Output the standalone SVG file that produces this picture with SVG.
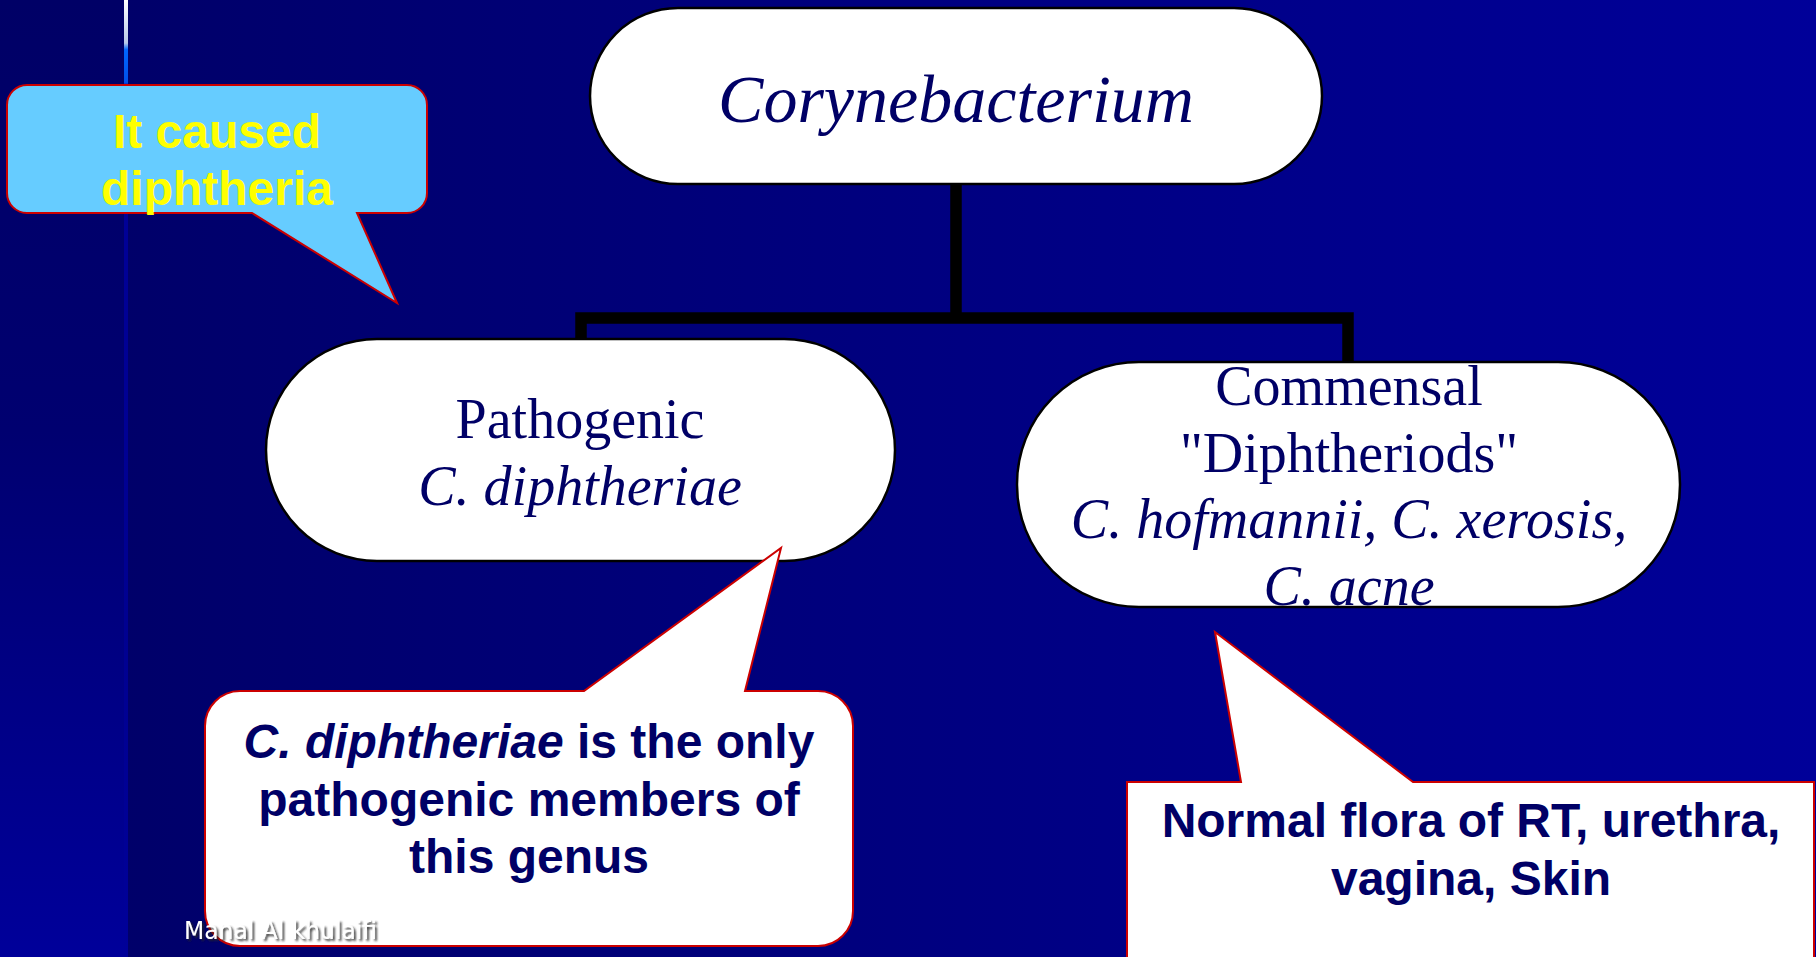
<svg xmlns="http://www.w3.org/2000/svg" width="1816" height="957" viewBox="0 0 1816 957">
  <defs>
    <linearGradient id="bgMain" x1="0" y1="0" x2="1" y2="0">
      <stop offset="0" stop-color="#000066"/>
      <stop offset="1" stop-color="#000099"/>
    </linearGradient>
    <linearGradient id="bgStrip" x1="0" y1="0" x2="0" y2="1">
      <stop offset="0" stop-color="#000066"/>
      <stop offset="0.45" stop-color="#000070"/>
      <stop offset="1" stop-color="#00009A"/>
    </linearGradient>
    <linearGradient id="lineGrad" x1="0" y1="0" x2="0" y2="957" gradientUnits="userSpaceOnUse">
      <stop offset="0" stop-color="#FFFFFF"/>
      <stop offset="0.045" stop-color="#B8C8E8"/>
      <stop offset="0.052" stop-color="#0066FF"/>
      <stop offset="0.086" stop-color="#0050E8"/>
      <stop offset="0.09" stop-color="#000099"/>
      <stop offset="0.65" stop-color="#000090"/>
      <stop offset="1" stop-color="#000099"/>
    </linearGradient>
    <clipPath id="clipCommensal">
      <rect x="1017" y="362" width="663" height="245" rx="122" ry="122"/>
    </clipPath>
    <filter id="wmShadow" x="-5%" y="-20%" width="110%" height="150%">
      <feDropShadow dx="2" dy="2" stdDeviation="0.8" flood-color="#222222" flood-opacity="0.9"/>
    </filter>
  </defs>
  <style>
    .node { fill: #FFFFFF; stroke: #000000; stroke-width: 2.5; }
    .serif { font-family: "Liberation Serif", "Times New Roman", serif; fill: #000066; text-anchor: middle; }
    .call { stroke: #CC0000; stroke-width: 2; }
    .sans { font-family: "Liberation Sans", Arial, sans-serif; font-weight: bold; font-size: 48px; text-anchor: middle; }
    .conn { fill: none; stroke: #000000; stroke-width: 11.5; stroke-linejoin: miter; }
  </style>

  <!-- background -->
  <rect x="0" y="0" width="1816" height="957" fill="url(#bgMain)"/>
  <rect x="0" y="0" width="124" height="957" fill="url(#bgStrip)"/>
  <rect x="124" y="0" width="4" height="957" fill="url(#lineGrad)"/>

  <!-- connectors -->
  <g id="connectors">
    <path class="conn" d="M956,184 V318"/>
    <path class="conn" d="M581,341 V318 H1348 V363"/>
  </g>

  <g id="node-corynebacterium">
    <rect class="node" x="590" y="8" width="732" height="176" rx="88" ry="88"/>
    <text class="serif" x="956" y="122" font-size="68" font-style="italic">Corynebacterium</text>
  </g>

  <g id="node-pathogenic">
    <rect class="node" x="266" y="339" width="629" height="222" rx="111" ry="111"/>
    <text class="serif" x="580" y="438" font-size="56">Pathogenic</text>
    <text class="serif" x="580" y="505" font-size="56" font-style="italic">C. diphtheriae</text>
  </g>

  <g id="node-commensal">
    <rect x="1017" y="362" width="663" height="245" rx="122" ry="122" fill="#FFFFFF"/>
    <g clip-path="url(#clipCommensal)">
      <text class="serif" x="1349" y="405" font-size="56">Commensal</text>
      <text class="serif" x="1349" y="472" font-size="56">"Diphtheriods"</text>
      <text class="serif" x="1349" y="538" font-size="56" font-style="italic">C. hofmannii, C. xerosis,</text>
      <text class="serif" x="1349" y="605" font-size="56" font-style="italic">C. acne</text>
    </g>
    <rect x="1017" y="362" width="663" height="245" rx="122" ry="122" fill="none" stroke="#000000" stroke-width="2.5"/>
  </g>

  <g id="callout-diphtheria">
    <path class="call" fill="#66CCFF" d="M27,85 H407 A20,20 0 0 1 427,105 V193 A20,20 0 0 1 407,213 H357 L397,303 L252,213 H27 A20,20 0 0 1 7,193 V105 A20,20 0 0 1 27,85 Z"/>
    <text class="sans" x="217" y="148" fill="#FFFF00">It caused</text>
    <text class="sans" x="217" y="205" fill="#FFFF00">diphtheria</text>
  </g>

  <g id="callout-pathogenic">
    <path class="call" fill="#FFFFFF" d="M240,691 H584 L781,548 L745,691 H818 A35,35 0 0 1 853,726 V911 A35,35 0 0 1 818,946 H240 A35,35 0 0 1 205,911 V726 A35,35 0 0 1 240,691 Z"/>
    <text class="sans" x="529" y="758" fill="#000066"><tspan font-style="italic">C. diphtheriae</tspan> is the only</text>
    <text class="sans" x="529" y="816" fill="#000066">pathogenic members of</text>
    <text class="sans" x="529" y="873" fill="#000066">this genus</text>
  </g>

  <g id="callout-normal-flora">
    <path class="call" fill="#FFFFFF" d="M1127,782 H1241 L1215,632 L1413,782 H1814 V975 H1127 Z"/>
    <text class="sans" x="1471" y="837" fill="#000066">Normal flora of RT, urethra,</text>
    <text class="sans" x="1471" y="895" fill="#000066">vagina, Skin</text>
  </g>

  <g id="watermark">
    <text x="184" y="939" font-family="DejaVu Sans, Verdana, sans-serif" font-size="24" fill="#FFFFFF" textLength="193" lengthAdjust="spacingAndGlyphs" filter="url(#wmShadow)">Manal Al khulaifi</text>
  </g>
</svg>
